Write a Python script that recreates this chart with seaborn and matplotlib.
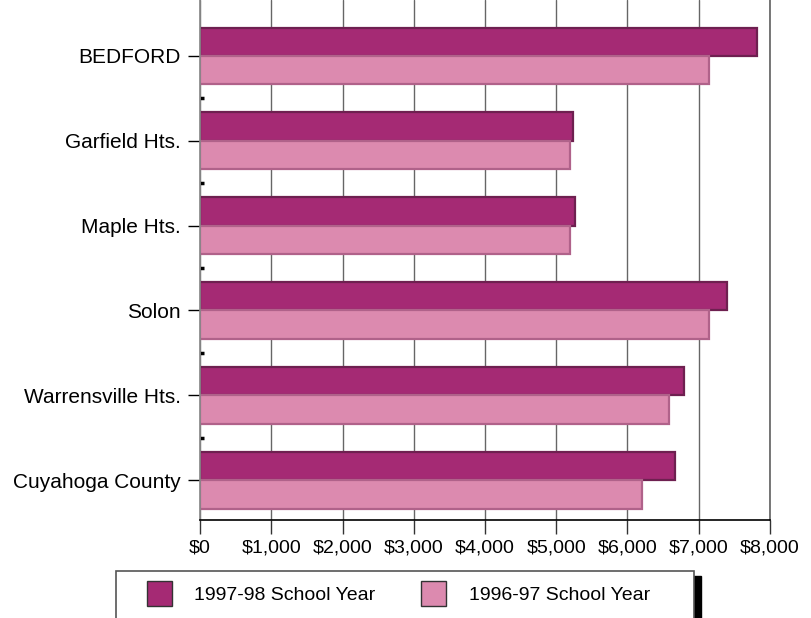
import matplotlib
matplotlib.use("Agg")
import matplotlib.pyplot as plt
from matplotlib.patches import Rectangle
import seaborn as sns
import pandas as pd

# per-pupil spending by district
districts = ["BEDFORD", "Garfield Hts.", "Maple Hts.", "Solon",
             "Warrensville Hts.", "Cuyahoga County"]
spend_9798 = [7820, 5240, 5270, 7400, 6790, 6660]
spend_9697 = [7150, 5190, 5200, 7150, 6580, 6200]
years = ["1997-98 School Year", "1996-97 School Year"]
x_ticks = [0, 1000, 2000, 3000, 4000, 5000, 6000, 7000, 8000]
x_labels = ["$0", "$1,000", "$2,000", "$3,000", "$4,000",
            "$5,000", "$6,000", "$7,000", "$8,000"]

df = pd.DataFrame({
    "district": districts * 2,
    "spend": spend_9798 + spend_9697,
    "year": [years[0]] * len(districts) + [years[1]] * len(districts),
})

sns.set_theme(style="white")
plt.rcParams["font.family"] = ["Liberation Sans", "DejaVu Sans"]
plt.rcParams["text.color"] = "black"

fig = plt.figure(figsize=(8.12, 6.18), dpi=100)
ax = fig.add_axes([200 / 812, 1 - 520 / 618, 570 / 812, 520 / 618])

sns.barplot(data=df, y="district", x="spend", hue="year", order=districts,
            hue_order=years, palette=["#A52A74", "#DC8AAF"], saturation=1,
            width=0.67, orient="h", ax=ax)

edge_cols = ["#6E2050", "#B0628A"]
for cont, ec in zip(ax.containers, edge_cols):
    for bar in cont:
        bar.set_edgecolor(ec)
        bar.set_linewidth(1.6)

handles, labels = ax.get_legend_handles_labels()
if ax.get_legend() is not None:
    ax.get_legend().remove()

ax.set_xlim(0, 8000)
ax.set_ylim(5.47, -0.66)
ax.set_xticks(x_ticks)
ax.set_xticklabels(x_labels, fontsize=14)
ax.tick_params(axis="y", labelsize=15)
ax.set_yticks([0.5, 1.5, 2.5, 3.5, 4.5], minor=True)
ax.set_xlabel("")
ax.set_ylabel("")

ax.tick_params(axis="x", which="major", bottom=True, length=10, width=1,
               color="#333333", labelcolor="black", direction="out", pad=4)
ax.tick_params(axis="y", which="major", left=True, length=9, width=1,
               color="black", labelcolor="black", direction="out", pad=5)
ax.tick_params(axis="y", which="minor", left=True, length=3, width=2.5,
               color="black", direction="in")

ax.xaxis.grid(True, color="#666666", linewidth=1)
ax.set_axisbelow(True)

ax.spines["top"].set_visible(False)
ax.spines["right"].set_color("#666666")
ax.spines["left"].set_color("#888888")
ax.spines["bottom"].set_color("black")
ax.spines["bottom"].set_linewidth(1.2)

# legend box with a shadow on the right
fig.patches.append(Rectangle((694 / 812, 0), 7 / 812, 42 / 618,
                             transform=fig.transFigure, color="black"))
fig.patches.append(Rectangle((116 / 812, -0.05), 578 / 812, 0.05 + 47 / 618,
                             transform=fig.transFigure, facecolor="white",
                             edgecolor="#555555", linewidth=1.2))

leg = fig.legend(handles, labels, loc="upper left",
                 bbox_to_anchor=(147 / 812, 1 - 581 / 618),
                 ncol=2, frameon=False, fontsize=14, handlelength=1.29,
                 handleheight=1.6, handletextpad=1.15, columnspacing=2.35,
                 borderpad=0, borderaxespad=0)
for p in leg.get_patches():
    p.set_edgecolor("#333333")
    p.set_linewidth(1)

fig.savefig("out.png", dpi=100)
